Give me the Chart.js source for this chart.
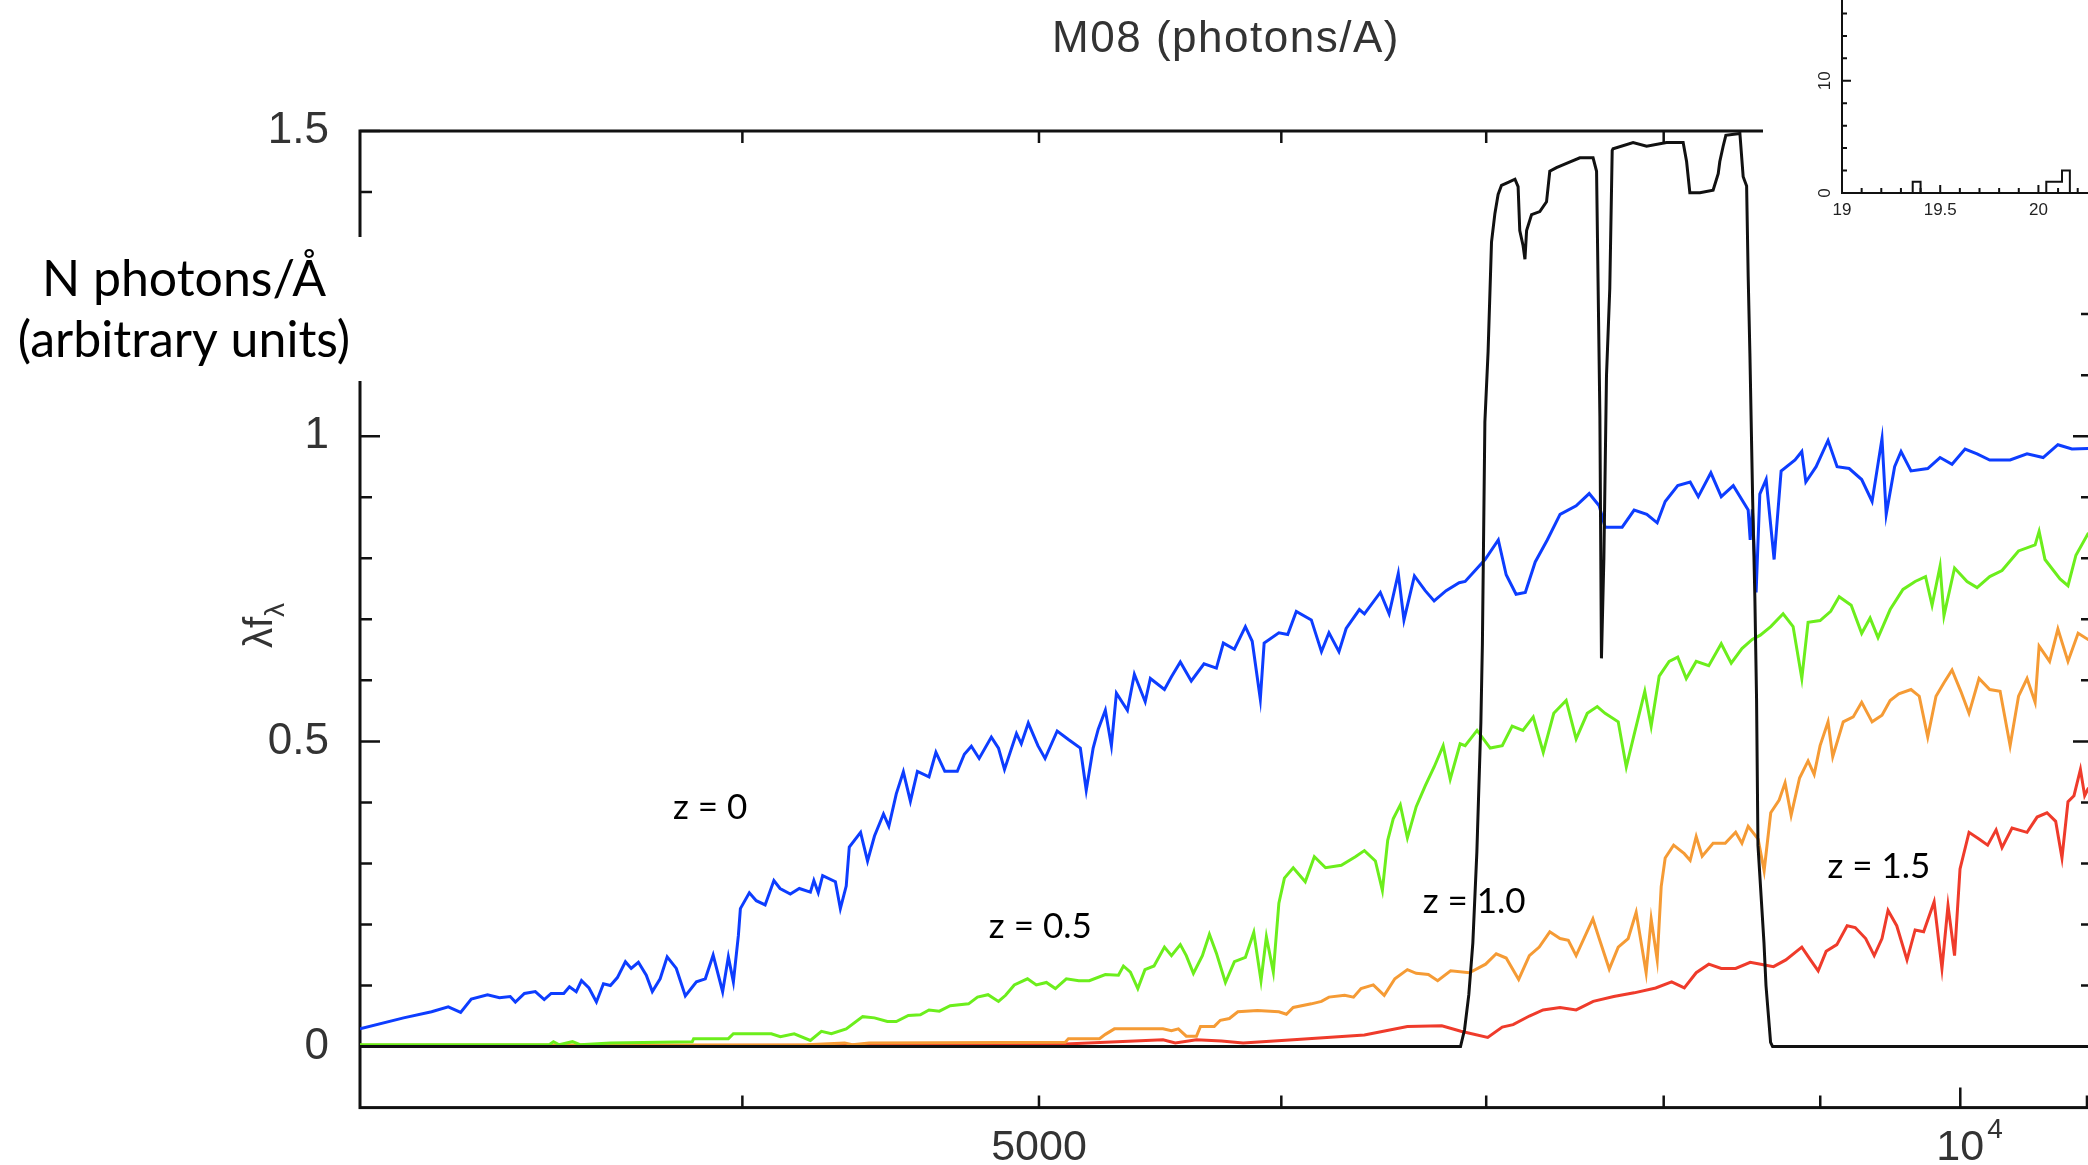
<!DOCTYPE html>
<html>
<head>
<meta charset="utf-8">
<title>M08 (photons/A)</title>
<script src="https://cdn.jsdelivr.net/npm/chart.js@4.4.1/dist/chart.umd.min.js"></script>
<style>
    html, body { margin: 0; padding: 0; background: #fff; overflow: hidden; }
    #wrap { position: relative; width: 2088px; height: 1165px; overflow: hidden; background: #fff; }
    #spectraChart { position: absolute; left: 0; top: 0; }
    #insetChart { position: absolute; left: 1763px; top: 0; background: #fff; }
</style>
</head>
<body>
<div id="wrap">
    <canvas id="spectraChart" width="2110" height="1165"></canvas>
    <canvas id="insetChart" width="354" height="290"></canvas>
</div>
<script>
/**
 * Spectra: [wavelength (A), photons/A]
 */
const blueSpectrum = [
    [3000,0.029],[3100,0.047],[3166,0.057],[3206,0.065],[3236,0.056],[3262,0.078],[3302,0.085],[3332,0.080],
    [3359,0.082],[3372,0.073],[3395,0.087],[3423,0.090],[3446,0.077],[3464,0.087],[3497,0.087],[3512,0.098],
    [3530,0.090],[3544,0.108],[3564,0.096],[3584,0.073],[3603,0.103],[3622,0.100],[3641,0.113],[3663,0.139],
    [3679,0.128],[3699,0.138],[3721,0.117],[3738,0.090],[3760,0.111],[3780,0.147],[3806,0.128],[3832,0.083],
    [3864,0.106],[3890,0.111],[3913,0.150],[3941,0.090],[3958,0.147],[3973,0.106],[3988,0.182],[3994,0.226],
    [4021,0.252],[4042,0.239],[4069,0.232],[4096,0.272],[4115,0.259],[4147,0.250],[4175,0.259],[4210,0.253],
    [4221,0.272],[4235,0.252],[4249,0.280],[4290,0.270],[4306,0.226],[4325,0.263],[4335,0.327],[4372,0.351],
    [4395,0.304],[4418,0.345],[4448,0.381],[4466,0.361],[4491,0.414],[4515,0.450],[4539,0.402],[4563,0.451],
    [4603,0.442],[4627,0.482],[4658,0.451],[4702,0.451],[4727,0.479],[4752,0.492],[4780,0.472],[4824,0.507],
    [4850,0.489],[4872,0.454],[4916,0.513],[4934,0.496],[4960,0.530],[4996,0.493],[5023,0.472],[5069,0.517],
    [5112,0.503],[5158,0.489],[5181,0.420],[5208,0.489],[5228,0.520],[5256,0.551],[5280,0.493],[5300,0.579],
    [5344,0.551],[5372,0.610],[5416,0.565],[5437,0.603],[5495,0.585],[5524,0.606],[5561,0.630],[5607,0.599],
    [5661,0.627],[5714,0.620],[5744,0.661],[5792,0.651],[5840,0.688],[5870,0.664],[5906,0.569],[5923,0.661],
    [5989,0.678],[6029,0.675],[6068,0.713],[6137,0.699],[6184,0.647],[6219,0.678],[6266,0.647],[6300,0.685],
    [6363,0.716],[6387,0.709],[6464,0.744],[6507,0.709],[6552,0.775],[6580,0.699],[6632,0.771],[6686,0.747],
    [6731,0.730],[6792,0.747],[6859,0.760],[6890,0.762],[6994,0.798],[7064,0.830],[7106,0.773],[7159,0.741],
    [7209,0.744],[7263,0.794],[7329,0.830],[7400,0.872],[7490,0.886],[7564,0.906],[7621,0.886],[7655,0.851],
    [7754,0.851],[7824,0.879],[7899,0.872],[7961,0.858],[8009,0.893],[8085,0.919],[8161,0.925],[8211,0.901],
    [8289,0.940],[8354,0.901],[8430,0.919],[8525,0.879],[8538,0.830],[8552,0.880],[8576,0.744],[8600,0.905],
    [8641,0.929],[8693,0.798],[8739,0.943],[8831,0.961],[8876,0.975],[8903,0.925],[8972,0.950],[9053,0.993],
    [9115,0.950],[9198,0.947],[9285,0.929],[9358,0.893],[9428,0.996],[9458,0.872],[9518,0.950],[9564,0.975],
    [9636,0.943],[9758,0.947],[9849,0.965],[9938,0.954],[10036,0.979],[10127,0.971],[10224,0.961],[10382,0.961],
    [10515,0.971],[10643,0.965],[10762,0.986],[10876,0.979],[11008,0.980],[11050,0.978]
];

const greenSpectrum = [
    [3000,0.003],[3459,0.003],[3470,0.008],[3485,0.003],[3520,0.008],[3540,0.003],[3622,0.006],[3852,0.008],
    [3856,0.013],[3958,0.013],[3973,0.021],[4088,0.021],[4116,0.016],[4159,0.021],[4210,0.010],[4245,0.025],
    [4277,0.021],[4325,0.029],[4379,0.049],[4418,0.047],[4461,0.041],[4491,0.041],[4532,0.051],[4573,0.052],
    [4603,0.060],[4639,0.058],[4677,0.067],[4742,0.070],[4774,0.081],[4812,0.085],[4850,0.074],[4876,0.084],
    [4908,0.101],[4957,0.111],[4990,0.101],[5028,0.105],[5062,0.095],[5104,0.111],[5152,0.108],[5193,0.108],
    [5256,0.118],[5308,0.117],[5328,0.132],[5356,0.122],[5386,0.095],[5415,0.126],[5452,0.132],[5495,0.163],
    [5524,0.149],[5561,0.167],[5586,0.149],[5616,0.120],[5654,0.149],[5684,0.184],[5714,0.153],[5753,0.105],
    [5792,0.139],[5840,0.146],[5877,0.187],[5909,0.108],[5933,0.180],[5964,0.122],[5989,0.235],[6014,0.276],
    [6054,0.293],[6109,0.270],[6151,0.311],[6203,0.293],[6277,0.297],[6344,0.311],[6387,0.321],[6440,0.304],
    [6474,0.256],[6500,0.338],[6527,0.373],[6562,0.396],[6597,0.342],[6641,0.393],[6686,0.427],[6731,0.458],
    [6777,0.493],[6813,0.438],[6864,0.496],[6890,0.493],[6952,0.518],[7021,0.489],[7085,0.493],[7138,0.525],
    [7196,0.518],[7252,0.540],[7307,0.482],[7365,0.546],[7434,0.567],[7490,0.504],[7553,0.546],[7610,0.557],
    [7655,0.546],[7731,0.532],[7778,0.458],[7824,0.511],[7887,0.582],[7925,0.525],[7973,0.607],[8033,0.631],
    [8085,0.638],[8137,0.603],[8198,0.631],[8276,0.624],[8354,0.660],[8417,0.628],[8485,0.652],[8551,0.667],
    [8603,0.674],[8671,0.688],[8752,0.709],[8818,0.688],[8876,0.603],[8918,0.695],[8999,0.698],[9071,0.713],
    [9129,0.737],[9212,0.723],[9285,0.677],[9344,0.702],[9400,0.670],[9486,0.716],[9578,0.749],[9666,0.762],
    [9742,0.770],[9790,0.723],[9849,0.787],[9878,0.706],[9957,0.784],[10051,0.762],[10127,0.752],[10224,0.770],
    [10319,0.780],[10448,0.812],[10579,0.822],[10611,0.844],[10658,0.798],[10779,0.766],[10844,0.755],[10909,0.805],
    [11008,0.840],[11050,0.845]
];

const orangeSpectrum = [
    [3000,0.002],[4200,0.003],[4320,0.006],[4345,0.003],[4400,0.006],[5100,0.007],[5112,0.013],[5233,0.013],
    [5256,0.020],[5292,0.029],[5489,0.029],[5524,0.026],[5553,0.029],[5586,0.017],[5629,0.017],[5646,0.033],
    [5705,0.033],[5731,0.043],[5770,0.046],[5807,0.057],[5893,0.059],[5989,0.057],[6023,0.053],[6054,0.064],
    [6137,0.070],[6184,0.074],[6219,0.081],[6293,0.084],[6335,0.081],[6371,0.095],[6430,0.101],[6483,0.084],
    [6535,0.111],[6597,0.126],[6641,0.120],[6702,0.118],[6749,0.108],[6815,0.124],[6912,0.121],[6997,0.135],
    [7053,0.152],[7106,0.145],[7173,0.110],[7231,0.149],[7285,0.163],[7343,0.188],[7400,0.177],[7446,0.174],
    [7490,0.149],[7585,0.209],[7621,0.177],[7679,0.127],[7731,0.163],[7789,0.177],[7836,0.220],[7895,0.121],
    [7925,0.209],[7961,0.142],[7985,0.262],[8009,0.309],[8060,0.330],[8125,0.316],[8161,0.305],[8198,0.344],
    [8235,0.312],[8303,0.333],[8379,0.333],[8445,0.351],[8485,0.333],[8525,0.361],[8589,0.340],[8628,0.288],
    [8671,0.383],[8726,0.404],[8765,0.432],[8805,0.379],[8861,0.440],[8918,0.468],[8959,0.446],[8999,0.493],
    [9053,0.532],[9085,0.475],[9157,0.532],[9226,0.540],[9285,0.564],[9358,0.532],[9428,0.543],[9486,0.567],
    [9548,0.578],[9636,0.585],[9696,0.574],[9758,0.507],[9819,0.574],[9878,0.596],[9938,0.617],[10004,0.582],
    [10066,0.546],[10142,0.603],[10224,0.585],[10304,0.582],[10382,0.493],[10448,0.574],[10515,0.603],[10579,0.564],
    [10611,0.656],[10695,0.631],[10762,0.684],[10844,0.631],[10927,0.677],[11008,0.667],[11050,0.670]
];

const redSpectrum = [
    [3000,0.001],[4250,0.002],[5100,0.004],[5489,0.011],[5540,0.006],[5629,0.011],[5736,0.009],[5830,0.006],
    [6054,0.011],[6387,0.019],[6597,0.033],[6770,0.034],[6868,0.025],[7008,0.015],[7085,0.032],[7143,0.036],
    [7231,0.050],[7306,0.060],[7400,0.064],[7490,0.060],[7587,0.074],[7705,0.082],[7824,0.088],[7952,0.096],
    [8048,0.106],[8125,0.096],[8198,0.121],[8276,0.135],[8354,0.128],[8445,0.128],[8538,0.138],[8606,0.135],
    [8689,0.131],[8770,0.142],[8876,0.163],[8934,0.142],[8986,0.124],[9040,0.156],[9113,0.167],[9184,0.198],
    [9240,0.195],[9313,0.177],[9373,0.149],[9428,0.177],[9471,0.223],[9533,0.198],[9607,0.142],[9666,0.191],
    [9728,0.188],[9805,0.237],[9863,0.128],[9908,0.231],[9957,0.149],[9998,0.291],[10066,0.351],[10142,0.340],
    [10208,0.330],[10273,0.355],[10319,0.326],[10397,0.358],[10515,0.351],[10595,0.376],[10674,0.383],[10744,0.369],
    [10795,0.309],[10844,0.401],[10893,0.411],[10946,0.454],[10981,0.411],[11008,0.422],[11050,0.430]
];

// filter transmission curve (black)
const filterCurve = [
    [3000,0],[6866,0],[6887,0.028],[6909,0.085],[6930,0.170],[6951,0.319],[6972,0.531],[6980,0.660],
    [6993,1.023],[7010,1.139],[7028,1.318],[7046,1.365],[7063,1.396],[7081,1.411],[7117,1.416],[7153,1.421],
    [7170,1.409],[7179,1.337],[7197,1.312],[7207,1.290],[7216,1.337],[7243,1.363],[7288,1.368],[7325,1.384],
    [7343,1.434],[7380,1.440],[7436,1.447],[7511,1.456],[7586,1.456],[7606,1.434],[7625,1.033],[7634,0.636],
    [7648,0.800],[7663,1.099],[7682,1.242],[7696,1.468],[7701,1.471],[7818,1.481],[7898,1.475],[8017,1.481],
    [8118,1.481],[8139,1.450],[8159,1.399],[8221,1.399],[8303,1.403],[8335,1.430],[8345,1.450],[8366,1.475],
    [8383,1.493],[8472,1.496],[8493,1.425],[8515,1.410],[8525,1.262],[8536,1.136],[8554,0.893],[8568,0.736],
    [8579,0.568],[8588,0.330],[8627,0.170],[8640,0.100],[8670,0.007],[8683,0],[11050,0]
];

const xTickValues = [4000, 5000, 6000, 7000, 8000, 9000, 10000, 11000];
const xLabelValues = [5000, 10000];
const xLabelBase = ['5000', '10'];
const xLabelSup = ['', '4'];
const yTickValues = [0, 0.1, 0.2, 0.3, 0.4, 0.5, 0.6, 0.7, 0.8, 0.9, 1, 1.1, 1.2, 1.3, 1.4, 1.5];
const yLabelValues = [0, 0.5, 1, 1.5];

const curveLabels = ['z = 0', 'z = 0.5', 'z = 1.0', 'z = 1.5'];
const curveLabelWave = [3904, 5005, 6937, 9406];
const curveLabelFlux = [0.392, 0.196, 0.237, 0.294];

// inset histogram
const histEdges = [19.0, 19.36, 19.40, 20.04, 20.12, 20.16, 20.4];
const histCounts = [0, 1, 0, 1, 2, 0, 0];
const insetXTicks = [19.0, 19.1, 19.2, 19.3, 19.4, 19.5, 19.6, 19.7, 19.8, 19.9, 20.0, 20.1, 20.2, 20.3];
const insetXLabels = [19, 19.5, 20];
const insetYTicks = [2, 4, 6, 8, 10, 12, 14, 16];
const insetYLabels = [0, 10];

const AXIS_FONT = '"Liberation Sans", Arial, sans-serif';
const NOTE_FONT = 'Lato, "Open Sans", sans-serif';

document.addEventListener('DOMContentLoaded', () => {
    drawSpectra();
    drawInset();
});

const toPoints = pairs => pairs.map(([x, y]) => ({ x, y }));

/**
 * Box, inward ticks on all four sides
 */
const framePlugin = {
    id: 'frame',
    beforeDatasetsDraw(chart) {
        const { ctx, chartArea: a, scales: { x, y } } = chart;
        ctx.save();
        ctx.strokeStyle = '#111';
        ctx.lineWidth = 3;
        ctx.strokeRect(a.left, a.top, a.right - a.left, a.bottom - a.top);
        ctx.lineWidth = 2.5;
        ctx.beginPath();
        yTickValues.forEach(v => {
            const py = y.getPixelForValue(v);
            const len = yLabelValues.includes(v) ? 20 : 12;
            ctx.moveTo(a.left, py); ctx.lineTo(a.left + len, py);
            ctx.moveTo(a.right, py); ctx.lineTo(a.right - len, py);
        });
        xTickValues.forEach(v => {
            const px = x.getPixelForValue(v);
            const len = v === 10000 ? 20 : 12;
            ctx.moveTo(px, a.bottom); ctx.lineTo(px, a.bottom - len);
            ctx.moveTo(px, a.top); ctx.lineTo(px, a.top + len);
        });
        ctx.stroke();
        ctx.restore();
    }
};

/**
 * Title, x labels, axis label, curve labels and the slide's side note
 */
const notesPlugin = {
    id: 'notes',
    afterDraw(chart) {
        const { ctx, scales: { x, y } } = chart;
        ctx.save();
        ctx.fillStyle = '#333';
        ctx.textBaseline = 'alphabetic';

        ctx.font = '44px ' + AXIS_FONT;
        ctx.textAlign = 'center';
        ctx.letterSpacing = '1.5px';
        ctx.fillText('M08 (photons/A)', 1226, 52);
        ctx.letterSpacing = '0px';

        xLabelValues.forEach((v, i) => {
            const px = x.getPixelForValue(v);
            ctx.font = '43px ' + AXIS_FONT;
            ctx.textAlign = 'center';
            ctx.fillText(xLabelBase[i], px, 1160);
            if (xLabelSup[i]) {
                const w = ctx.measureText(xLabelBase[i]).width;
                ctx.font = '28px ' + AXIS_FONT;
                ctx.textAlign = 'left';
                ctx.fillText(xLabelSup[i], px + w / 2 + 3, 1138);
            }
        });

        // rotated λf_λ
        ctx.save();
        ctx.translate(272, 648);
        ctx.rotate(-Math.PI / 2);
        ctx.textAlign = 'left';
        ctx.font = '40px ' + AXIS_FONT;
        ctx.fillText('λf', 0, 0);
        const lw = ctx.measureText('λf').width;
        ctx.font = '28px ' + AXIS_FONT;
        ctx.fillText('λ', lw, 12);
        ctx.restore();

        ctx.fillStyle = '#000';
        ctx.font = '35px ' + NOTE_FONT;
        ctx.textAlign = 'center';
        ctx.textBaseline = 'middle';
        curveLabels.forEach((t, i) => {
            ctx.fillText(t, x.getPixelForValue(curveLabelWave[i]), y.getPixelForValue(curveLabelFlux[i]));
        });

        // white box covering the axis, with the note on top
        ctx.fillStyle = '#fff';
        ctx.fillRect(0, 237, 400, 144);
        ctx.fillStyle = '#000';
        ctx.font = '50px ' + NOTE_FONT;
        ctx.textBaseline = 'alphabetic';
        ctx.fillText('N photons/Å', 184, 296);
        ctx.fillText('(arbitrary units)', 184, 357);
        ctx.restore();
    }
};

/**
 * Main spectra plot, log wavelength axis
 */
function drawSpectra() {
    const ctx = document.getElementById('spectraChart').getContext('2d');
    const line = (data, color, width) => ({
        data: toPoints(data), borderColor: color, borderWidth: width,
        pointRadius: 0, tension: 0, fill: false
    });
    new Chart(ctx, {
        type: 'line',
        data: {
            datasets: [
                line(filterCurve, '#111', 3),
                line(blueSpectrum, '#0d3dff', 3),
                line(greenSpectrum, '#6cee1c', 3),
                line(orangeSpectrum, '#f59b35', 3),
                line(redSpectrum, '#ef3b2b', 3)
            ]
        },
        options: {
            responsive: false,
            animation: false,
            devicePixelRatio: 1,
            layout: { padding: { top: 131, right: 17, left: 0, bottom: 0 } },
            plugins: { legend: { display: false }, tooltip: { enabled: false } },
            scales: {
                x: {
                    type: 'logarithmic', min: 3000, max: 11050,
                    ticks: { display: false },
                    grid: { display: false, drawTicks: false },
                    border: { display: false },
                    afterFit: s => { s.height = 56; }
                },
                y: {
                    type: 'linear', min: -0.1, max: 1.5,
                    afterBuildTicks: s => { s.ticks = yLabelValues.map(value => ({ value })); },
                    ticks: {
                        padding: 31, color: '#333',
                        font: { family: AXIS_FONT, size: 44 },
                        callback: v => String(v)
                    },
                    grid: { display: false, drawTicks: false },
                    border: { display: false },
                    afterFit: s => { s.width = 360; }
                }
            }
        },
        plugins: [framePlugin, notesPlugin]
    });
}

/**
 * Inset histogram axes (only left and bottom are in view)
 */
const insetAxesPlugin = {
    id: 'insetAxes',
    afterDraw(chart) {
        const { ctx, chartArea: a, scales: { x, y } } = chart;
        ctx.save();
        ctx.strokeStyle = '#111';
        ctx.lineWidth = 2;
        ctx.beginPath();
        ctx.moveTo(a.left, 0); ctx.lineTo(a.left, a.bottom); ctx.lineTo(a.right, a.bottom);
        insetXTicks.forEach(v => {
            const px = x.getPixelForValue(v);
            const len = insetXLabels.some(l => Math.abs(l - v) < 1e-6) ? 8 : 5;
            ctx.moveTo(px, a.bottom); ctx.lineTo(px, a.bottom - len);
        });
        insetYTicks.forEach(v => {
            const py = y.getPixelForValue(v);
            const len = v === 10 ? 9 : 5;
            ctx.moveTo(a.left, py); ctx.lineTo(a.left + len, py);
        });
        ctx.stroke();

        ctx.fillStyle = '#222';
        ctx.font = '17px ' + AXIS_FONT;
        ctx.textAlign = 'center';
        ctx.textBaseline = 'alphabetic';
        insetXLabels.forEach(v => ctx.fillText(String(v), x.getPixelForValue(v), a.bottom + 22));
        insetYLabels.forEach(v => {
            ctx.save();
            ctx.translate(a.left - 12, y.getPixelForValue(v));
            ctx.rotate(-Math.PI / 2);
            ctx.fillText(String(v), 0, 0);
            ctx.restore();
        });
        ctx.restore();
    }
};

function drawInset() {
    const ctx = document.getElementById('insetChart').getContext('2d');
    new Chart(ctx, {
        type: 'line',
        data: {
            datasets: [{
                data: histEdges.map((x, i) => ({ x, y: histCounts[i] })),
                stepped: 'before', borderColor: '#111', borderWidth: 2,
                pointRadius: 0, fill: false
            }]
        },
        options: {
            responsive: false,
            animation: false,
            devicePixelRatio: 1,
            layout: { padding: 0 },
            plugins: { legend: { display: false }, tooltip: { enabled: false } },
            scales: {
                x: {
                    type: 'linear', min: 19, max: 20.4,
                    ticks: { display: false }, grid: { display: false, drawTicks: false },
                    border: { display: false },
                    afterFit: s => { s.height = 97; }
                },
                y: {
                    type: 'linear', min: 0, max: 17.2,
                    ticks: { display: false }, grid: { display: false, drawTicks: false },
                    border: { display: false },
                    afterFit: s => { s.width = 79; }
                }
            }
        },
        plugins: [insetAxesPlugin]
    });
}
</script>
</body>
</html>
